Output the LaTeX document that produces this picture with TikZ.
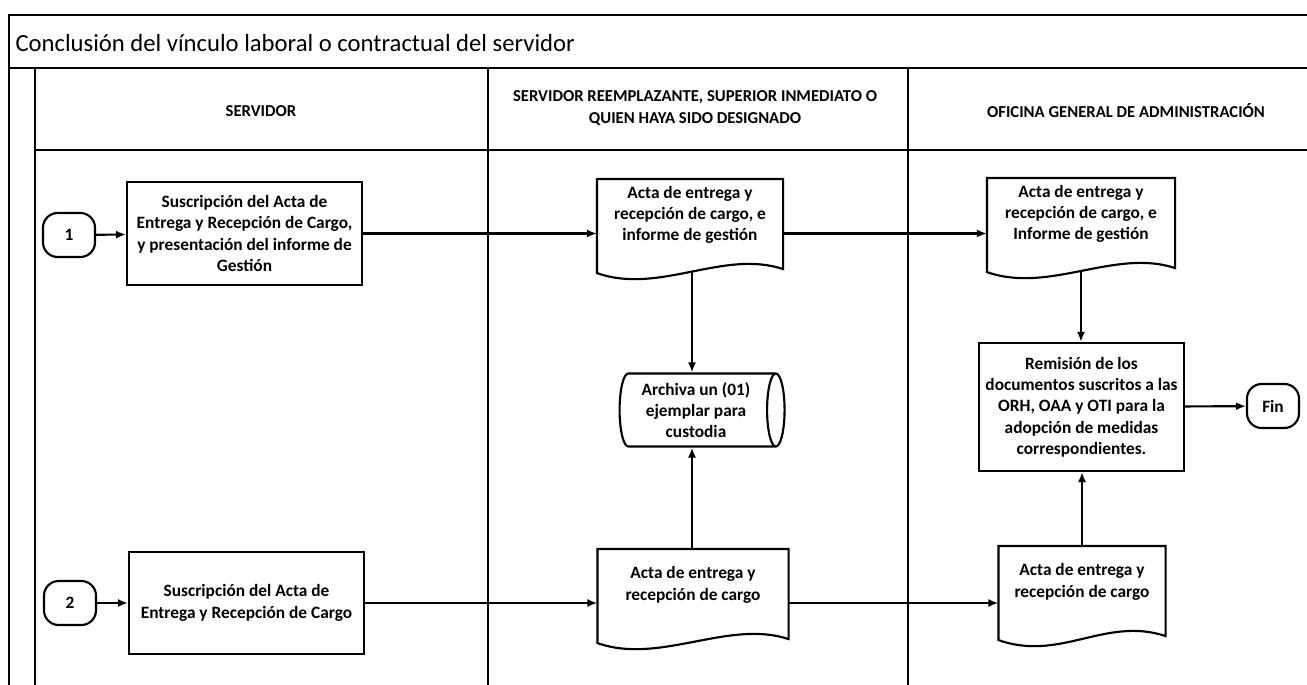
\documentclass[tikz,border=0pt]{standalone}
\usepackage{fontspec}
\setmainfont{Carlito}
\usetikzlibrary{calc,arrows,arrows.meta,positioning,shapes.geometric}

\begin{document}
\begin{tikzpicture}[x=0.75pt,y=-0.75pt,line width=1.6pt,
    every node/.style={font=\fontsize{13}{16}\selectfont\bfseries, align=center},
    box/.style={draw, rectangle, inner sep=2pt},
    docnode/.style={rectangle, inner sep=2pt, minimum height=52.5pt},
    term/.style={draw, rectangle, rounded corners=11pt, minimum width=39pt, minimum height=33pt},
    store/.style={draw, cylinder, aspect=0.3, minimum height=123.75pt, minimum width=54.75pt, inner sep=1pt},
    head/.style={font=\fontsize{12.5}{16}\selectfont\bfseries},
    arr/.style={-{Latex[length=7.5pt,width=6pt]}}]
    \useasboundingbox (0,0) rectangle (1307,685);

    % frame of the lanes
    \coordinate (tl) at (9,15);
    \coordinate (tr) at (1307,15);
    \draw (9,685) -- (tl) -- (tr);
    \draw (9,68) -- (1307,68);
    \draw (35,68) -- (35,685);
    \draw (35,150) -- (1307,150);
    \draw (488,68) -- (488,685);
    \draw (908,68) -- (908,685);
    \node[anchor=west, font=\fontsize{18.5}{22}\selectfont] (title) at (10,43) {Conclusión del vínculo laboral o contractual del servidor};

    \node[head] (hd1) at (261,111) {SERVIDOR};
    \node[head] (hd2) at (695,108) {SERVIDOR REEMPLAZANTE, SUPERIOR INMEDIATO O\\QUIEN HAYA SIDO DESIGNADO};
    \node[head] (hd3) at (1126,111) {OFICINA GENERAL DE ADMINISTRACIÓN};

    % first row
    \node[term] (t1) at (69,235) {1};
    \node[box, minimum width=176.25pt, minimum height=77.25pt] (s1) at (244.5,233.5)
        {Suscripción del Acta de\\Entrega y Recepción de Cargo,\\y presentación del informe de\\Gestión};
    \node[docnode, minimum width=138pt] (doc1) at (690,215)
        {Acta de entrega y\\recepción de cargo, e\\informe de gestión};
    \node[docnode, minimum width=139.5pt] (doc2) at (1081,214)
        {Acta de entrega y\\recepción de cargo, e\\Informe de gestión};

    \node[store] (arch) at (696,410) {Archiva un (01)\\ejemplar para\\custodia};
    \node[box, minimum width=153.75pt, minimum height=96pt] (rem) at (1081.5,407)
        {Remisión de los\\documentos suscritos a las\\ORH, OAA y OTI para la\\adopción de medidas\\correspondientes.};
    \node[term] (fin) at (1273,406) {Fin};

    % second row
    \node[term] (t2) at (70,603) {2};
    \node[box, minimum width=176.25pt, minimum height=76.5pt] (s2) at (246.5,603)
        {Suscripción del Acta de\\Entrega y Recepción de Cargo};
    \node[docnode, minimum width=141.75pt] (doc3) at (693,585)
        {Acta de entrega y\\recepción de cargo};
    \node[docnode, minimum width=123.75pt] (doc4) at (1082,582)
        {Acta de entrega y\\recepción de cargo};

    % wavy bottom of the documents
    \foreach \n in {doc1,doc2,doc3,doc4} {
        \draw (\n.north west) -- (\n.north east) -- ($(\n.south east)+(0,18)$)
            .. controls +(-60,-20) and +(62,22) .. ($(\n.south west)+(0,22)$) -- cycle;
    }

    % connectors
    \draw[arr] (t1) -- (s1);
    \draw[arr] (s1.east) -- (s1.east -| doc1.west);
    \draw[arr] (s1.east -| doc1.east) -- (s1.east -| doc2.west);
    \draw[arr] ($(doc1.south)+(2,21)$) -- ($(doc1.south |- arch.north)+(2,0)$);
    \draw[arr] ($(doc3.north)+(-1,0)$) -- ($(doc3.north |- arch.south)+(-1,0)$);
    \draw[arr] ($(doc2.south)+(0,21)$) -- (doc2.south |- rem.north);
    \draw[arr] (doc4.north) -- (doc4.north |- rem.south);
    \draw[arr] (rem) -- (fin);
    \draw[arr] (t2) -- (s2);
    \draw[arr] (s2.east) -- (s2.east -| doc3.west);
    \draw[arr] (s2.east -| doc3.east) -- (s2.east -| doc4.west);
\end{tikzpicture}
\end{document}
